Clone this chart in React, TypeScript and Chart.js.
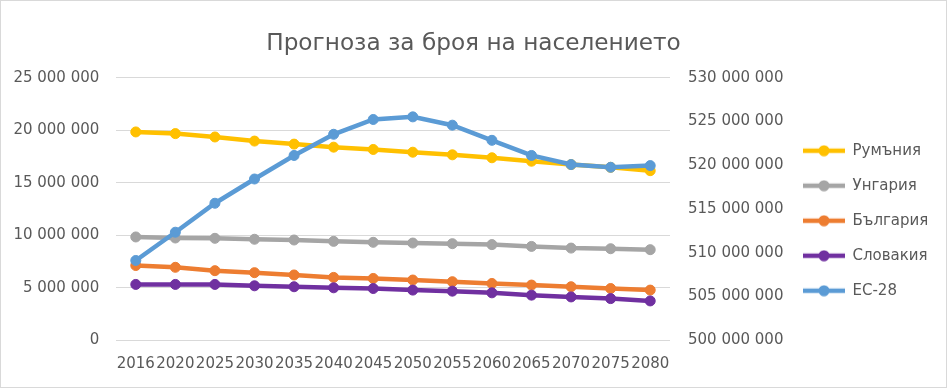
import React, { useEffect, useRef } from "react";
import { Chart, registerables } from "chart.js";

Chart.register(...registerables);

// ---------- data ----------
const years = ["2016", "2020", "2025", "2030", "2035", "2040", "2045", "2050", "2055", "2060", "2065", "2070", "2075", "2080"];

const romania = [19840000, 19680000, 19360000, 18970000, 18680000, 18390000, 18170000, 17910000, 17660000, 17380000, 17050000, 16730000, 16470000, 16150000];
const hungary = [9840000, 9740000, 9710000, 9620000, 9550000, 9420000, 9330000, 9260000, 9200000, 9110000, 8940000, 8780000, 8720000, 8630000];
const bulgaria = [7120000, 6950000, 6630000, 6440000, 6220000, 5990000, 5890000, 5740000, 5580000, 5410000, 5260000, 5100000, 4930000, 4780000];
const slovakia = [5320000, 5320000, 5320000, 5190000, 5100000, 5000000, 4930000, 4780000, 4680000, 4520000, 4300000, 4130000, 3970000, 3750000];
const eu28 = [509120000, 512350000, 515660000, 518430000, 521120000, 523540000, 525230000, 525530000, 524580000, 522850000, 521120000, 520080000, 519770000, 519960000];

const seriesNames = ["Румъния", "Унгария", "България", "Словакия", "ЕС-28"];
const seriesColors = ["#FFC000", "#A5A5A5", "#ED7D31", "#7030A0", "#5B9BD5"];

const titleText = "Прогноза за броя на населението";

const leftMin = 0;
const leftMax = 25000000;
const leftStep = 5000000;
const rightMin = 500000000;
const rightMax = 530000000;
const rightStep = 5000000;

// ---------- style ----------
const FONT = "'DejaVu Sans', sans-serif";
const TEXT = "#595959";
const GRID = "#D9D9D9";
const W = 947;
const H = 388;

function fmt(v: number): string {
  return Math.round(v).toString().replace(/\B(?=(\d{3})+(?!\d))/g, " ");
}

function legendMarker(color: string): HTMLCanvasElement {
  const c = document.createElement("canvas");
  c.width = 42;
  c.height = 12;
  const g = c.getContext("2d")!;
  g.strokeStyle = color;
  g.lineWidth = 4.5;
  g.beginPath();
  g.moveTo(0, 6);
  g.lineTo(42, 6);
  g.stroke();
  g.fillStyle = color;
  g.beginPath();
  g.arc(21, 6, 5.5, 0, Math.PI * 2);
  g.fill();
  return c;
}

export default function App() {
  const ref = useRef<HTMLCanvasElement | null>(null);

  useEffect(() => {
    if (!ref.current) return;
    Chart.defaults.font.family = FONT;
    Chart.defaults.color = TEXT;

    const allSeries = [romania, hungary, bulgaria, slovakia, eu28];
    const orders = [4, 3, 2, 1, 0];
    const markers = seriesColors.map((c) => legendMarker(c));

    const datasets = allSeries.map((d, i) => ({
      label: seriesNames[i],
      data: d,
      borderColor: seriesColors[i],
      backgroundColor: seriesColors[i],
      pointBackgroundColor: seriesColors[i],
      pointBorderColor: seriesColors[i],
      pointRadius: 5,
      pointBorderWidth: 1,
      borderWidth: 4.5,
      tension: 0,
      yAxisID: i === 4 ? "y1" : "y",
      order: orders[i],
    }));

    const fixPlugin = {
      id: "fixLayout",
      beforeInit(chart: any) {
        const lg = chart.legend;
        if (lg) {
          const orig = lg.fit.bind(lg);
          lg.fit = function () {
            orig();
            this.width = 164;
          };
        }
      },
      afterLayout(chart: any) {
        const lg = chart.legend;
        if (lg) {
          const h = lg.height;
          lg.top = 123.2;
          lg.bottom = lg.top + h;
        }
      },
      beforeDraw(chart: any) {
        const ctx = chart.ctx;
        ctx.save();
        ctx.fillStyle = "#ffffff";
        ctx.fillRect(0, 0, chart.width, chart.height);
        ctx.strokeStyle = GRID;
        ctx.lineWidth = 2;
        ctx.strokeRect(0, 0, chart.width, chart.height);
        ctx.restore();
      },
    };

    const chart = new Chart(ref.current, {
      type: "line",
      data: { labels: years, datasets },
      options: {
        responsive: false,
        animation: false,
        layout: { padding: { top: 0, left: 0, right: 0, bottom: 0.3 } },
        plugins: {
          title: {
            display: true,
            text: titleText,
            color: TEXT,
            font: { family: FONT, size: 23.2, weight: "normal" },
            padding: { top: 30, bottom: 19.9 },
          },
          legend: {
            display: true,
            position: "right",
            align: "start",
            labels: {
              usePointStyle: true,
              pointStyleWidth: 42,
              padding: 20,
              color: TEXT,
              font: { family: FONT, size: 15 },
              generateLabels: () =>
                seriesNames.map((n, i) => ({
                  text: n,
                  fillStyle: seriesColors[i],
                  strokeStyle: seriesColors[i],
                  lineWidth: 0,
                  hidden: false,
                  datasetIndex: i,
                  pointStyle: markers[i],
                  fontColor: TEXT,
                })),
            },
          },
          tooltip: { enabled: false },
        },
        scales: {
          x: {
            offset: true,
            grid: { display: false, drawTicks: false },
            border: { display: false },
            ticks: {
              autoSkip: false,
              maxRotation: 0,
              minRotation: 0,
              padding: 14.7,
              color: TEXT,
              font: { family: FONT, size: 15 },
            },
          },
          y: {
            position: "left",
            min: leftMin,
            max: leftMax,
            grid: { color: GRID, lineWidth: 1, drawTicks: false },
            border: { display: false },
            ticks: {
              stepSize: leftStep,
              padding: 16.7,
              color: TEXT,
              font: { family: FONT, size: 15 },
              callback: (v: any) => fmt(Number(v)),
            },
            afterFit: (s: any) => {
              s.width = 116;
            },
          },
          y1: {
            position: "right",
            min: rightMin,
            max: rightMax,
            grid: { display: false, drawTicks: false },
            border: { display: false },
            ticks: {
              stepSize: rightStep,
              padding: 18,
              color: TEXT,
              font: { family: FONT, size: 15 },
              callback: (v: any) => fmt(Number(v)),
            },
            afterFit: (s: any) => {
              s.width = 113;
            },
          },
        },
      },
      plugins: [fixPlugin],
    } as any);

    return () => chart.destroy();
  }, []);

  return (
    <div style={{ position: "absolute", left: 0, top: 0, width: W, height: H, background: "#fff" }}>
      <canvas ref={ref} width={W} height={H} style={{ display: "block", width: W, height: H }} />
    </div>
  );
}
